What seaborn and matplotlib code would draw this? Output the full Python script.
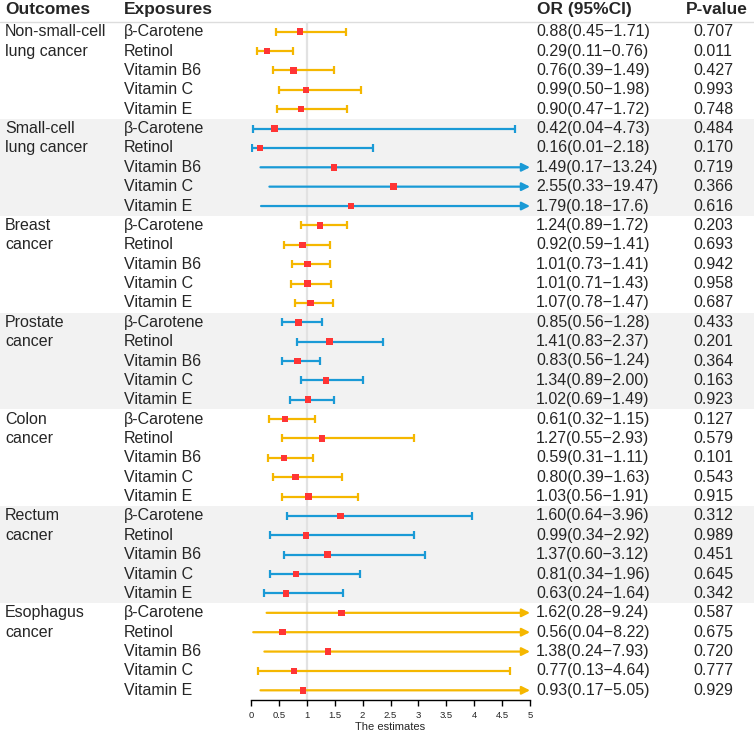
import numpy as np
import pandas as pd
import matplotlib
matplotlib.use("Agg")
import matplotlib.pyplot as plt
import seaborn as sns

# ---------------- data ----------------
outcomes = [
    ["Non-small-cell", "lung cancer"],
    ["Small-cell", "lung cancer"],
    ["Breast", "cancer"],
    ["Prostate", "cancer"],
    ["Colon", "cancer"],
    ["Rectum", "cacner"],
    ["Esophagus", "cancer"],
]
exposures = ["β-Carotene", "Retinol", "Vitamin B6", "Vitamin C", "Vitamin E"]

or_values = [
    0.88, 0.29, 0.76, 0.99, 0.90,
    0.42, 0.16, 1.49, 2.55, 1.79,
    1.24, 0.92, 1.01, 1.01, 1.07,
    0.85, 1.41, 0.83, 1.34, 1.02,
    0.61, 1.27, 0.59, 0.80, 1.03,
    1.60, 0.99, 1.37, 0.81, 0.63,
    1.62, 0.56, 1.38, 0.77, 0.93,
]
ci_low = [
    0.45, 0.11, 0.39, 0.50, 0.47,
    0.04, 0.01, 0.17, 0.33, 0.18,
    0.89, 0.59, 0.73, 0.71, 0.78,
    0.56, 0.83, 0.56, 0.89, 0.69,
    0.32, 0.55, 0.31, 0.39, 0.56,
    0.64, 0.34, 0.60, 0.34, 0.24,
    0.28, 0.04, 0.24, 0.13, 0.17,
]
ci_high = [
    1.71, 0.76, 1.49, 1.98, 1.72,
    4.73, 2.18, 13.24, 19.47, 17.6,
    1.72, 1.41, 1.41, 1.43, 1.47,
    1.28, 2.37, 1.24, 2.00, 1.49,
    1.15, 2.93, 1.11, 1.63, 1.91,
    3.96, 2.92, 3.12, 1.96, 1.64,
    9.24, 8.22, 7.93, 4.64, 5.05,
]
ci_text = [
    "0.88(0.45−1.71)", "0.29(0.11−0.76)", "0.76(0.39−1.49)", "0.99(0.50−1.98)", "0.90(0.47−1.72)",
    "0.42(0.04−4.73)", "0.16(0.01−2.18)", "1.49(0.17−13.24)", "2.55(0.33−19.47)", "1.79(0.18−17.6)",
    "1.24(0.89−1.72)", "0.92(0.59−1.41)", "1.01(0.73−1.41)", "1.01(0.71−1.43)", "1.07(0.78−1.47)",
    "0.85(0.56−1.28)", "1.41(0.83−2.37)", "0.83(0.56−1.24)", "1.34(0.89−2.00)", "1.02(0.69−1.49)",
    "0.61(0.32−1.15)", "1.27(0.55−2.93)", "0.59(0.31−1.11)", "0.80(0.39−1.63)", "1.03(0.56−1.91)",
    "1.60(0.64−3.96)", "0.99(0.34−2.92)", "1.37(0.60−3.12)", "0.81(0.34−1.96)", "0.63(0.24−1.64)",
    "1.62(0.28−9.24)", "0.56(0.04−8.22)", "1.38(0.24−7.93)", "0.77(0.13−4.64)", "0.93(0.17−5.05)",
]
p_values = [
    "0.707", "0.011", "0.427", "0.993", "0.748",
    "0.484", "0.170", "0.719", "0.366", "0.616",
    "0.203", "0.693", "0.942", "0.958", "0.687",
    "0.433", "0.201", "0.364", "0.163", "0.923",
    "0.127", "0.579", "0.101", "0.543", "0.915",
    "0.312", "0.989", "0.451", "0.645", "0.342",
    "0.587", "0.675", "0.720", "0.777", "0.929",
]
x_ticks = [0, 0.5, 1, 1.5, 2, 2.5, 3, 3.5, 4, 4.5, 5]
x_label = "The estimates"
headers = ["Outcomes", "Exposures", "OR (95%CI)", "P-value"]

# ---------------- style ----------------
sns.set_style("white")
plt.rcParams["font.family"] = ["Liberation Sans", "DejaVu Sans"]

ORANGE = "#F5B700"
BLUE = "#1A9AD6"
RED = "#FF3535"
BAND = "#F2F2F2"

n_groups = len(outcomes)
n_exp = len(exposures)
n_rows = n_groups * n_exp
df = pd.DataFrame({
    "row": np.arange(n_rows),
    "group": np.repeat(np.arange(n_groups), n_exp),
    "exposure": exposures * n_groups,
    "OR": or_values, "lo": ci_low, "hi": ci_high,
})

W, H = 754, 735
fig = plt.figure(figsize=(W / 100, H / 100), dpi=100)
top_px, bot_px = 22, 700
ax_l, ax_r = 251, 530
vpos = [0, 1 - bot_px / H, 1, (bot_px - top_px) / H]

# background / table axes
bg = fig.add_axes(vpos, zorder=0)
bg.set_xlim(0, W)
bg.set_ylim(n_rows - 0.5, -0.5)
bg.axis("off")
for g in range(n_groups):
    if g % 2 == 1:
        bg.axhspan(g * n_exp - 0.5, g * n_exp + n_exp - 0.5, color=BAND, lw=0, zorder=0)
bg.axhline(-0.5, color="#DDDDDD", lw=1.0, clip_on=False)

fs = 11.5
hy = -1.12
bg.text(5, hy, headers[0], fontsize=12.5, fontweight="bold", va="center", ha="left", clip_on=False)
bg.text(124, hy, headers[1], fontsize=12.5, fontweight="bold", va="center", ha="left", clip_on=False)
bg.text(537, hy, headers[2], fontsize=12.5, fontweight="bold", va="center", ha="left", clip_on=False)
bg.text(686, hy, headers[3], fontsize=12.5, fontweight="bold", va="center", ha="left", clip_on=False)

for g, lines in enumerate(outcomes):
    for k, line in enumerate(lines):
        bg.text(5, g * n_exp + k, line, fontsize=fs, va="center", ha="left")
for i, r in df.iterrows():
    bg.text(124, r["row"], r["exposure"], fontsize=fs, va="center", ha="left")
    bg.text(536, r["row"], ci_text[i], fontsize=fs, va="center", ha="left")
    bg.text(693, r["row"], p_values[i], fontsize=fs, va="center", ha="left")

# forest axes
ax = fig.add_axes([ax_l / W, 1 - bot_px / H, (ax_r - ax_l) / W, (bot_px - top_px) / H], zorder=1)
ax.patch.set_alpha(0)
xmax = x_ticks[-1]
ax.set_xlim(x_ticks[0], xmax)
ax.set_ylim(n_rows - 0.5, -0.5)
ax.axvline(1, color="#E2E2E2", lw=1.6, zorder=0)

for _, r in df.iterrows():
    c = ORANGE if r["group"] % 2 == 0 else BLUE
    y = r["row"]
    if r["hi"] > xmax:
        ax.annotate("", xy=(xmax, y), xytext=(r["lo"], y),
                    arrowprops=dict(arrowstyle="-|>", color=c, lw=1.6,
                                    mutation_scale=12, shrinkA=0, shrinkB=0),
                    annotation_clip=False, zorder=2)
    else:
        ax.errorbar(r["OR"], y, xerr=[[r["OR"] - r["lo"]], [r["hi"] - r["OR"]]],
                    fmt="none", ecolor=c, elinewidth=1.6, capsize=3, capthick=1.6, zorder=2)

sns.scatterplot(data=df, x="OR", y="row", marker="s", color=RED, s=22,
                edgecolor="none", ax=ax, zorder=5, legend=False)

ax.set_xticks(x_ticks)
ax.set_xticklabels([f"{t:g}" for t in x_ticks], fontsize=6.8)
ax.set_yticks([])
ax.set_ylabel("")
ax.set_xlabel(x_label, fontsize=8, labelpad=1)
for s in ["top", "right", "left"]:
    ax.spines[s].set_visible(False)
ax.spines["bottom"].set_color("black")
ax.spines["bottom"].set_linewidth(1.0)
ax.tick_params(axis="x", direction="out", length=4, width=1, color="black", pad=4, bottom=True)

fig.savefig("out.png", dpi=100)
